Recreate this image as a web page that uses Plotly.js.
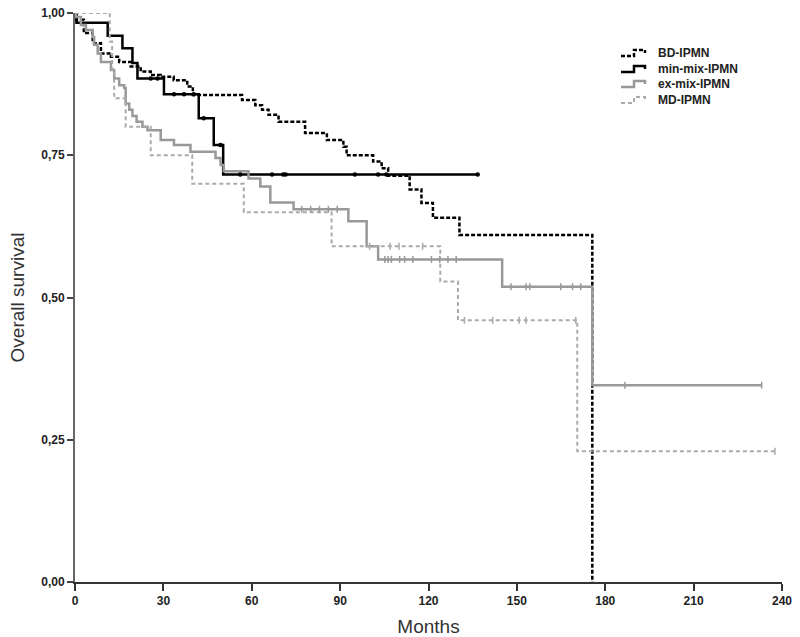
<!DOCTYPE html>
<html>
<head>
<meta charset="utf-8">
<script src="https://cdn.plot.ly/plotly-3.0.1.min.js"></script>
<style>html,body{margin:0;padding:0;background:#fff;}#chart{width:800px;height:637px;}</style>
</head>
<body>
<div id="chart"></div>
<script>
// ---- Data (months, survival) ----
const bdTimes = [0, 0.5, 3, 6, 8.8, 12.2, 15, 18.9, 22.3, 25.7, 29.1, 33.5, 38.1, 40, 56.7, 61.2, 63.5, 65.7, 69.1, 78.1, 85.5, 91.1, 92.2, 101.2, 104.1, 106.3, 113.6, 117.6, 121.5, 130.5, 175.6];
const bdSurv  = [1.0, 0.988, 0.965, 0.947, 0.929, 0.923, 0.914, 0.906, 0.897, 0.891, 0.888, 0.882, 0.871, 0.856, 0.847, 0.838, 0.830, 0.821, 0.809, 0.789, 0.777, 0.765, 0.750, 0.739, 0.727, 0.714, 0.690, 0.666, 0.640, 0.610, 0.0];

const minTimes = [0, 0.5, 11.1, 16.1, 19.5, 21.2, 30.2, 42.0, 47.1, 50.3, 136.7];
const minSurv  = [1.0, 0.983, 0.960, 0.938, 0.912, 0.885, 0.857, 0.815, 0.768, 0.716, 0.716];
const minCensor = [25.7, 28, 33.6, 37, 40.3, 43.7, 49.4, 56.1, 66.9, 70.7, 71.5, 95, 102.9, 105.7, 136.7];

const exTimes = [0, 0.3, 2.0, 3.7, 6.0, 6.5, 7.7, 8.8, 12.2, 13.3, 15.0, 16.7, 17.2, 18.4, 19.5, 20.9, 22.9, 24.6, 29.1, 33.6, 39.2, 47.7, 49.4, 50.5, 58.9, 62.9, 66.3, 74.2, 92.8, 99.0, 102.9, 145.0, 175.6, 233.1];
const exSurv  = [1.0, 0.993, 0.979, 0.970, 0.958, 0.944, 0.929, 0.914, 0.900, 0.885, 0.873, 0.868, 0.841, 0.830, 0.819, 0.809, 0.800, 0.794, 0.777, 0.768, 0.756, 0.745, 0.733, 0.722, 0.709, 0.695, 0.667, 0.655, 0.634, 0.590, 0.567, 0.519, 0.346, 0.346];
const exCensor = [77, 80, 83, 86, 89, 105.2, 106.3, 107.4, 110.2, 111.9, 114.7, 121.0, 123.8, 126.6, 129.4, 148, 153.1, 154.4, 164.9, 168.9, 171.7, 186.7, 233.1];

const mdTimes = [0, 11.8, 12.6, 13.3, 17.2, 25.7, 39.8, 57.3, 87.1, 124.0, 130.0, 170.5, 237.6];
const mdSurv  = [1.0, 0.95, 0.90, 0.85, 0.80, 0.75, 0.70, 0.65, 0.59, 0.528, 0.46, 0.23, 0.23];
const mdCensor = [100, 107, 110, 118, 132.2, 141.8, 150.8, 153.1, 170.0, 237.6];

const seriesNames = ['BD-IPMN', 'min-mix-IPMN', 'ex-mix-IPMN', 'MD-IPMN'];
const xTicks = [0, 30, 60, 90, 120, 150, 180, 210, 240];
const yTicks = [0, 0.25, 0.5, 0.75, 1.0];
const yTickText = ['0,00', '0,25', '0,50', '0,75', '1,00'];

// ---- styles ----
const seriesStyles = [
  {color: '#000', width: 2.5, dash: '4px,2px'},
  {color: '#000', width: 2.5, dash: 'solid'},
  {color: '#999', width: 2.5, dash: 'solid'},
  {color: '#aaa', width: 2, dash: '4px,3px'}
];

function survAt(times, surv, t) {
  let s = surv[0];
  for (let i = 0; i < times.length; i++) { if (times[i] <= t) s = surv[i]; }
  return s;
}

const W = 800, H = 637;
const M = {l: 75, r: 18, t: 13, b: 55};
const pw = W - M.l - M.r, ph = H - M.t - M.b;
const px2x = p => (p - M.l) / pw;
const py2y = p => (H - M.b - p) / ph;

const lineData = [[bdTimes, bdSurv], [minTimes, minSurv], [exTimes, exSurv], [mdTimes, mdSurv]];
const traces = lineData.map((d, i) => ({
  x: d[0], y: d[1], name: seriesNames[i], mode: 'lines', showlegend: false, hoverinfo: 'skip',
  line: {shape: 'hv', color: seriesStyles[i].color, width: seriesStyles[i].width, dash: seriesStyles[i].dash}
}));
traces.push(
  {x: minCensor, y: minCensor.map(t => survAt(minTimes, minSurv, t)), mode: 'markers', showlegend: false, hoverinfo: 'skip',
   marker: {symbol: 'circle', size: 4.5, color: '#000'}},
  {x: exCensor, y: exCensor.map(t => survAt(exTimes, exSurv, t)), mode: 'markers', showlegend: false, hoverinfo: 'skip',
   marker: {symbol: 'line-ns-open', size: 5, color: '#999', line: {color: '#999', width: 1.5}}},
  {x: mdCensor, y: mdCensor.map(t => survAt(mdTimes, mdSurv, t)), mode: 'markers', showlegend: false, hoverinfo: 'skip',
   marker: {symbol: 'line-ns-open', size: 5, color: '#aaa', line: {color: '#aaa', width: 1.5}}}
);

// ---- custom legend (step-shaped keys) ----
const legendRows = [53, 69, 84, 100];
const shapes = [], annotations = [];
legendRows.forEach((yc, i) => {
  const pts = [[621, yc + 3], [634, yc + 3], [634, yc - 3], [645, yc - 3], [645, yc]];
  const path = pts.map((p, k) => (k ? 'L' : 'M') + px2x(p[0]).toFixed(5) + ',' + py2y(p[1]).toFixed(5)).join(' ');
  shapes.push({type: 'path', xref: 'paper', yref: 'paper', path: path,
    line: {color: seriesStyles[i].color, width: seriesStyles[i].width, dash: seriesStyles[i].dash}});
  annotations.push({xref: 'paper', yref: 'paper', x: px2x(656), y: py2y(yc), xanchor: 'left', yanchor: 'middle',
    text: seriesNames[i], showarrow: false,
    font: {family: 'Liberation Sans, Arial, sans-serif', size: 12, color: '#222', weight: 'bold'}});
});

const tickFont = {family: 'Liberation Sans, Arial, sans-serif', size: 12, color: '#222', weight: 'bold'};

const layout = {
  width: W, height: H,
  margin: M,
  paper_bgcolor: '#fff', plot_bgcolor: '#fff',
  showlegend: false,
  shapes: shapes, annotations: annotations,
  xaxis: {
    range: [0, 240], tickvals: xTicks, ticktext: xTicks.map(String),
    showgrid: false, zeroline: false, showline: true, linecolor: '#333', linewidth: 2,
    ticks: 'outside', ticklen: 7, tickwidth: 2, tickcolor: '#333', tickfont: tickFont,
    title: {text: 'Months', font: {family: 'Liberation Sans, Arial, sans-serif', size: 19, color: '#333'}, standoff: 12}
  },
  yaxis: {
    range: [0, 1.0], tickvals: yTicks, ticktext: yTickText,
    showgrid: false, zeroline: false, showline: true, linecolor: '#666', linewidth: 2,
    ticks: 'outside', ticklen: 6, tickwidth: 2, tickcolor: '#444', tickfont: tickFont,
    title: {text: 'Overall survival', font: {family: 'Liberation Sans, Arial, sans-serif', size: 19, color: '#333'}, standoff: 12}
  }
};

Plotly.newPlot('chart', traces, layout, {displayModeBar: false, staticPlot: true});
</script>
</body>
</html>
